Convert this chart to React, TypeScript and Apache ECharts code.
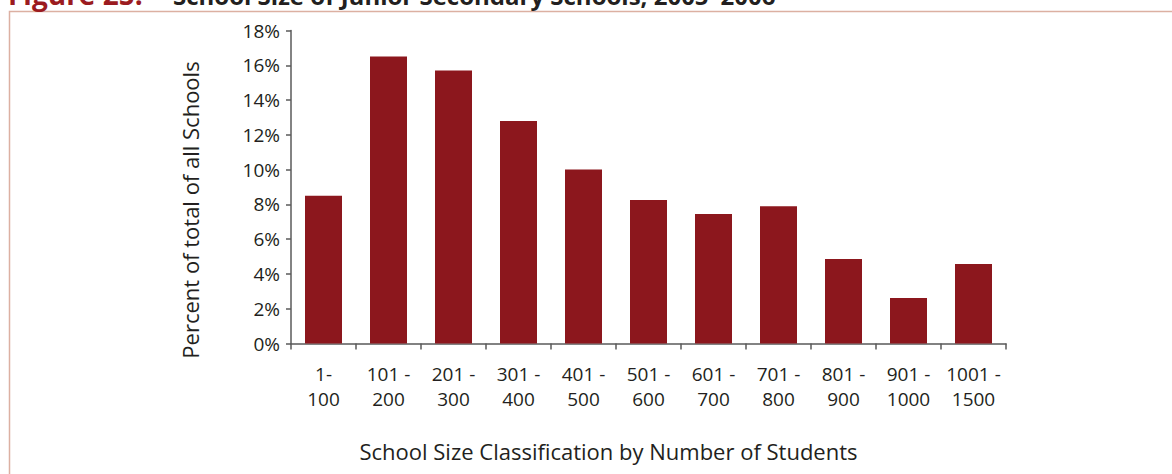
import React, { useEffect, useRef } from "react";
import * as echarts from "echarts";

const categories = [
  "1-\n100",
  "101 -\n200",
  "201 -\n300",
  "301 -\n400",
  "401 -\n500",
  "501 -\n600",
  "601 -\n700",
  "701 -\n800",
  "801 -\n900",
  "901 -\n1000",
  "1001 -\n1500",
];
const percentValues = [8.5, 16.5, 15.7, 12.8, 10.0, 8.25, 7.45, 7.9, 4.86, 2.62, 4.57];
const yTicks = { min: 0, max: 18, interval: 2 };
const figureLabel = "Figure 25:";
const figureTitle = "School Size of Junior Secondary Schools, 2005\u20132006";
const yAxisTitle = "Percent of total of all Schools";
const xAxisTitle = "School Size Classification by Number of Students";

const FONT = "'Open Sans', 'Noto Sans', sans-serif";
const TEXT = "#231f20";
const BAR = "#8c171d";
const AXIS = "#5a5a5a";

export default function App() {
  const ref = useRef<HTMLDivElement>(null);
  useEffect(() => {
    if (!ref.current) return;
    const chart = echarts.init(ref.current, undefined, { renderer: "svg" });
    chart.setOption({
      animation: false,
      backgroundColor: "#ffffff",
      textStyle: { fontFamily: FONT },
      grid: { left: 291, right: 166, top: 30.5, bottom: 130.5, containLabel: false },
      graphic: [
        {
          type: "rect",
          shape: { x: 9.5, y: 11.5, width: 1200, height: 500 },
          style: { fill: "none", stroke: "#dcb0a2", lineWidth: 1.5 },
          silent: true,
        },
        {
          type: "text",
          x: 8,
          y: -6,
          style: {
            text: figureLabel,
            fill: "#9b1b20",
            font: `bold 28px ${FONT}`,
            align: "left",
            verticalAlign: "middle",
          },
        },
        {
          type: "text",
          x: 173,
          y: -5,
          style: {
            text: figureTitle,
            fill: TEXT,
            font: `bold 24px ${FONT}`,
            align: "left",
            verticalAlign: "middle",
          },
        },
      ],
      xAxis: {
        type: "category",
        data: categories,
        name: xAxisTitle,
        nameLocation: "middle",
        nameGap: 96,
        nameTextStyle: {
          color: TEXT,
          fontSize: 22,
          fontFamily: FONT,
          padding: [0, 80, 0, 0],
        },
        axisLine: { lineStyle: { color: AXIS, width: 1.5 } },
        axisTick: { show: true, alignWithLabel: false, length: 6, lineStyle: { color: AXIS, width: 1.5 } },
        axisLabel: {
          color: TEXT,
          fontSize: 19,
          fontFamily: FONT,
          lineHeight: 25,
          margin: 18,
          interval: 0,
        },
      },
      yAxis: {
        type: "value",
        min: yTicks.min,
        max: yTicks.max,
        interval: yTicks.interval,
        name: yAxisTitle,
        nameLocation: "middle",
        nameGap: 90,
        nameRotate: 90,
        nameTextStyle: {
          color: TEXT,
          fontSize: 22,
          fontFamily: FONT,
          padding: [0, 46, 0, 0],
        },
        axisLine: { show: true, lineStyle: { color: AXIS, width: 1.5 } },
        axisTick: { show: true, length: 5, lineStyle: { color: AXIS, width: 1.5 } },
        splitLine: { show: false },
        axisLabel: {
          color: TEXT,
          fontSize: 19,
          fontFamily: FONT,
          margin: 11,
          formatter: "{value}%",
        },
      },
      series: [
        {
          type: "bar",
          data: percentValues,
          barWidth: 37,
          itemStyle: { color: BAR },
        },
      ],
    });
    return () => chart.dispose();
  }, []);
  return (
    <div
      ref={ref}
      style={{ position: "fixed", left: 0, top: 0, width: 1172, height: 474 }}
    />
  );
}
